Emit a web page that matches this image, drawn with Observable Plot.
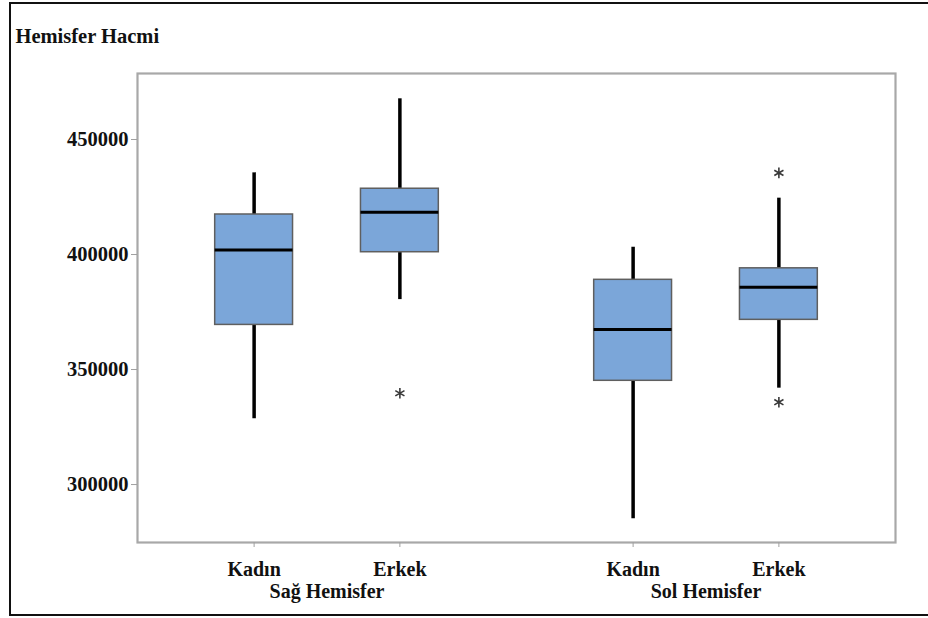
<!DOCTYPE html>
<html>
<head>
<meta charset="utf-8">
<script src="https://cdn.jsdelivr.net/npm/d3@7"></script>
<script src="https://cdn.jsdelivr.net/npm/@observablehq/plot@0.6"></script>
<style>
  html, body { margin: 0; padding: 0; background: #fff; }
  #wrap { position: relative; width: 928px; height: 618px; overflow: hidden; background: #fff; }
  #border { position: absolute; left: 9px; top: 2px; width: 940px; height: 614px; border: 2px solid #111; box-sizing: border-box; }
  #chart { position: absolute; left: 0; top: 0; }
</style>
</head>
<body>
<div id="wrap"><div id="border"></div><div id="chart"></div></div>
<script>
// ---- data ----
const groups  = ["Sağ Hemisfer", "Sağ Hemisfer", "Sol Hemisfer", "Sol Hemisfer"];
const sexes   = ["Kadın", "Erkek", "Kadın", "Erkek"];
const whiskerLow  = [328600, 380400, 285100, 341900];
const q1          = [369400, 401000, 345100, 371600];
const medians     = [402000, 418400, 367400, 385800];
const q3          = [417400, 428600, 389000, 394000];
const whiskerHigh = [435500, 467700, 403200, 424500];
const outlierBox   = [1, 3, 3];            // index of the box each outlier belongs to
const outlierValue = [339700, 435500, 335800];
const yTicks = [300000, 350000, 400000, 450000];
const groupNames = ["Sağ Hemisfer", "Sol Hemisfer"];

// boxes 1 unit apart within a group; groups separated by an extra 0.6 unit
const groupStep = 2.6;
const pos = i => 1 + groupNames.indexOf(groups[i]) * groupStep + (i % 2);
const half = 0.267;

const boxes = groups.map((g, i) => ({
  group: g, sex: sexes[i], x: pos(i),
  lo: whiskerLow[i], q1: q1[i], med: medians[i], q3: q3[i], hi: whiskerHigh[i]
}));
const outliers = outlierBox.map((b, k) => ({x: pos(b), y: outlierValue[k]}));
const groupLabels = groupNames.map(g => {
  const xs = boxes.filter(d => d.group === g).map(d => d.x);
  return {group: g, x: d3.mean(xs)};
});
const tickPos = boxes.map(d => d.x);
const tickLabel = new Map(boxes.map(d => [d.x, d.sex]));

const font = "'Liberation Serif', 'Times New Roman', serif";

const chart = Plot.plot({
  width: 928,
  height: 618,
  marginLeft: 137,
  marginRight: 33,
  marginTop: 73,
  marginBottom: 76,
  style: {fontFamily: font, fontWeight: "bold", fontSize: "20px", background: "transparent", color: "#111"},
  x: {type: "linear", domain: [0.2, 5.4], axis: null},
  y: {domain: [274800, 478700], axis: null},
  marks: [
    Plot.frame({stroke: "#a8a8a8", strokeWidth: 2.2}),
    Plot.axisY({ticks: yTicks, tickFormat: d => String(d), tickSize: 6, tickPadding: 3, label: null,
      stroke: "#a0a0a0", fill: "#111", fontSize: 20.5, fontWeight: "bold", fontFamily: font}),
    Plot.axisX({ticks: tickPos, tickFormat: d => tickLabel.get(d), tickSize: 5, tickPadding: 14, label: null,
      stroke: "#a0a0a0", fill: "#111", fontSize: 20, fontWeight: "bold", fontFamily: font}),
    Plot.ruleX(boxes, {x: "x", y1: "lo", y2: "hi", stroke: "#000", strokeWidth: 3.5}),
    Plot.rect(boxes, {x1: d => d.x - half, x2: d => d.x + half, y1: "q1", y2: "q3",
      fill: "#7BA6D9", stroke: "#5f5f5f", strokeWidth: 1.5}),
    Plot.ruleY(boxes, {y: "med", x1: d => d.x - half, x2: d => d.x + half, stroke: "#000", strokeWidth: 3}),
    Plot.dot(outliers, {x: "x", y: "y", symbol: "asterisk", r: 5, stroke: "#3a3a3a", strokeWidth: 1.6}),
    Plot.text(groupLabels, {x: "x", text: "group", frameAnchor: "bottom", lineAnchor: "bottom", dy: 55,
      fontSize: 20, fontWeight: "bold", fontFamily: font, fill: "#111"}),
    Plot.text(["Hemisfer Hacmi"], {text: d => d, frameAnchor: "top-left", textAnchor: "start",
      lineAnchor: "bottom", dx: -122, dy: -31, fontSize: 20.5, fontWeight: "bold", fontFamily: font, fill: "#111"})
  ]
});
document.getElementById("chart").appendChild(chart);
</script>
</body>
</html>
